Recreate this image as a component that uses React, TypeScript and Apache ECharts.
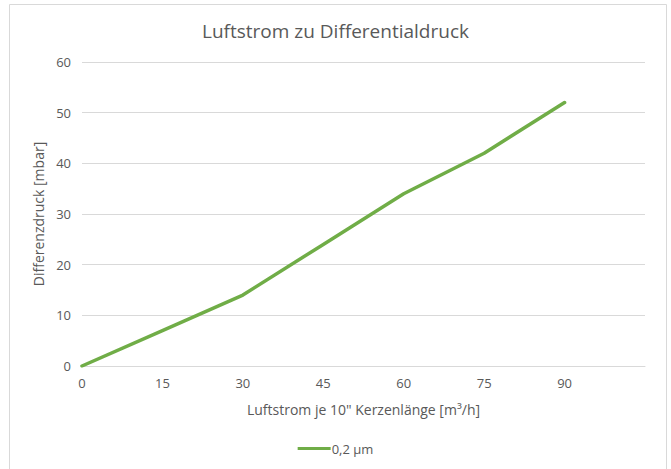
import React, { useEffect, useRef } from "react";
import * as echarts from "echarts";

const titleText = "Luftstrom zu Differentialdruck";
const xAxisName = "Luftstrom je 10\" Kerzenlänge [m³/h]";
const yAxisName = "Differenzdruck [mbar]";
const seriesName = "0,2 µm";
const xValues = [0, 15, 30, 45, 60, 75, 90];
const yValues = [0, 7, 14, 24, 34, 42, 52];

export default function App() {
  const ref = useRef<HTMLDivElement>(null);
  useEffect(() => {
    if (!ref.current) return;
    const chart = echarts.init(ref.current, null, { renderer: "svg" });
    const font = "'Open Sans', sans-serif";
    chart.setOption({
      animation: false,
      backgroundColor: "#ffffff",
      textStyle: { fontFamily: font },
      title: {
        text: titleText,
        left: "center",
        top: 16,
        textStyle: { fontFamily: font, fontSize: 19, fontWeight: "normal", color: "#595959" },
      },
      graphic: [
        {
          type: "rect",
          shape: { x: 9.5, y: 4.5, width: 657, height: 480 },
          style: { fill: "none", stroke: "#d9d9d9", lineWidth: 1 },
          silent: true,
        },
      ],
      legend: {
        bottom: 9,
        left: "center",
        icon: "rect",
        itemWidth: 33,
        itemHeight: 3,
        itemGap: 10,
        textStyle: { fontFamily: font, fontSize: 13, color: "#595959", padding: [0, 0, 0, -4] },
        data: [seriesName],
      },
      grid: { left: 82, right: 26, top: 62, bottom: 103, containLabel: false },
      xAxis: {
        type: "value",
        min: 0,
        max: 105,
        interval: 15,
        name: xAxisName,
        nameLocation: "middle",
        nameGap: 36,
        nameTextStyle: { fontFamily: font, fontSize: 14, color: "#595959" },
        axisLine: { show: true, lineStyle: { color: "#d9d9d9", width: 1 } },
        axisTick: { show: false },
        splitLine: { show: false },
        axisLabel: {
          fontFamily: font,
          fontSize: 13,
          color: "#595959",
          margin: 10,
          showMaxLabel: false,
          formatter: (v: number) => (v > 90 ? "" : String(v)),
        },
      },
      yAxis: {
        type: "value",
        min: 0,
        max: 60,
        interval: 10,
        name: yAxisName,
        nameLocation: "middle",
        nameGap: 33,
        nameTextStyle: { fontFamily: font, fontSize: 14, color: "#595959" },
        axisLine: { show: false },
        axisTick: { show: false },
        splitLine: { show: true, lineStyle: { color: "#d9d9d9", width: 1 } },
        axisLabel: { fontFamily: font, fontSize: 13, color: "#595959", margin: 11 },
      },
      series: [
        {
          name: seriesName,
          type: "line",
          data: xValues.map((x, i) => [x, yValues[i]]),
          symbol: "none",
          lineStyle: { color: "#70ad47", width: 3.5, cap: "round", join: "round" },
          itemStyle: { color: "#70ad47" },
        },
      ],
    });
    return () => chart.dispose();
  }, []);
  return (
    <div
      ref={ref}
      style={{ position: "fixed", left: 0, top: 0, width: 671, height: 469 }}
    />
  );
}
